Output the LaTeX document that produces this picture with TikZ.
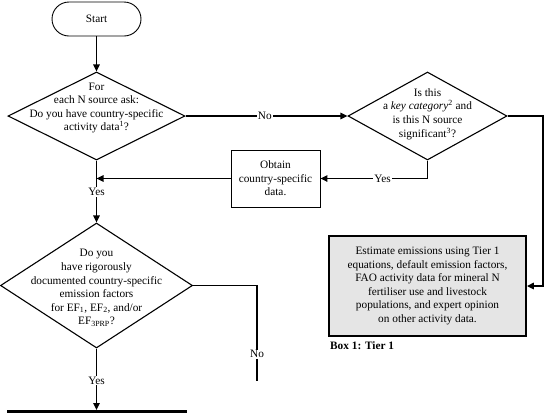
\documentclass[tikz,border=0pt]{standalone}
\usepackage{fontspec}
\setmainfont{Liberation Serif}
\usetikzlibrary{shapes.geometric,arrows.meta,calc}
\begin{document}
\begin{tikzpicture}[x=1pt,y=-1pt,
  txt/.style={font=\fontsize{11.3}{13.6}\selectfont, align=center, inner sep=0pt},
  dia/.style={draw, line width=1.1pt, shape=diamond, inner sep=0pt},
  conn/.style={line width=1.5pt},
  arr/.style={conn, -{Triangle[length=7pt,width=6.5pt]}},
  lbl/.style={fill=white, inner sep=1pt, font=\fontsize{11.3}{12}\selectfont}
]
\useasboundingbox (0,0) rectangle (545,413);
% Start
\node[draw, line width=0.9pt, rounded corners=17pt, minimum width=89pt, minimum height=34pt, txt] (start) at (96.5,19) {Start};
% Diamond 1
\node[dia, minimum width=177pt, minimum height=88pt] (d1) at (96.5,116) {};
\node[txt] (d1t) at (96.5,108) {For\\each N source ask:\\Do you have country-specific\\activity data\textsuperscript{1}?};
% Diamond 2
\node[dia, minimum width=159pt, minimum height=88pt] (d2) at (427.5,116) {};
\node[txt] (d2t) at (427.5,114) {Is this\\a \textit{key category}\textsuperscript{2} and\\is this N source\\significant\textsuperscript{3}?};
% Obtain box
\node[draw, line width=0.9pt, minimum width=89pt, minimum height=57pt, txt] (ob) at (275.5,178.5) {Obtain\\country-specific\\data.};
% Diamond 3
\node[dia, minimum width=192pt, minimum height=125pt] (d3) at (96.5,285.5) {};
\node[txt] (d3t) at (96.5,288) {Do you\\have rigorously\\documented country-specific\\emission factors\\for EF\textsubscript{1}, EF\textsubscript{2}, and/or\\EF\textsubscript{3PRP}?};
% Grey box
\node[draw, line width=1.8pt, fill=black!10, minimum width=197pt, minimum height=100pt, txt] (gb) at (427.5,286) {Estimate emissions using Tier 1\\equations, default emission factors,\\FAO activity data for mineral N\\fertiliser use and livestock\\populations, and expert opinion\\on other activity data.};
\node[anchor=west, inner sep=0pt, font=\fontsize{11.3}{12}\selectfont\bfseries] (boxlbl) at (330,346) {Box 1: Tier 1};
% coordinates
\coordinate (rc) at (543,286);
\coordinate (noend) at (257,381);
\coordinate (bl) at (96.5,410);
\coordinate (botL) at (7,411.5);
\coordinate (botR) at (187,411.5);
% connectors
\draw[arr] (start) -- (d1.north);
\draw[arr] (d1.east) -- node[lbl, pos=0.49] {No} (d2.west);
\draw[arr] (d2.south) |- node[lbl, pos=0.71] {Yes} (ob.east);
\draw[arr] (ob.west) -- (ob.west -| d1.south);
\draw[arr] (d1.south) -- node[lbl, pos=0.51] {Yes} (d3.north);
\draw[arr] (d2.east) -| (rc) -- (gb.east);
\draw[conn] (d3.east) -| node[lbl, pos=0.86] {No} (noend);
\draw[arr] (d3.south) -- node[lbl, pos=0.52] {Yes} (bl);
\draw[line width=3pt] (botL) -- (botR);
\end{tikzpicture}
\end{document}
